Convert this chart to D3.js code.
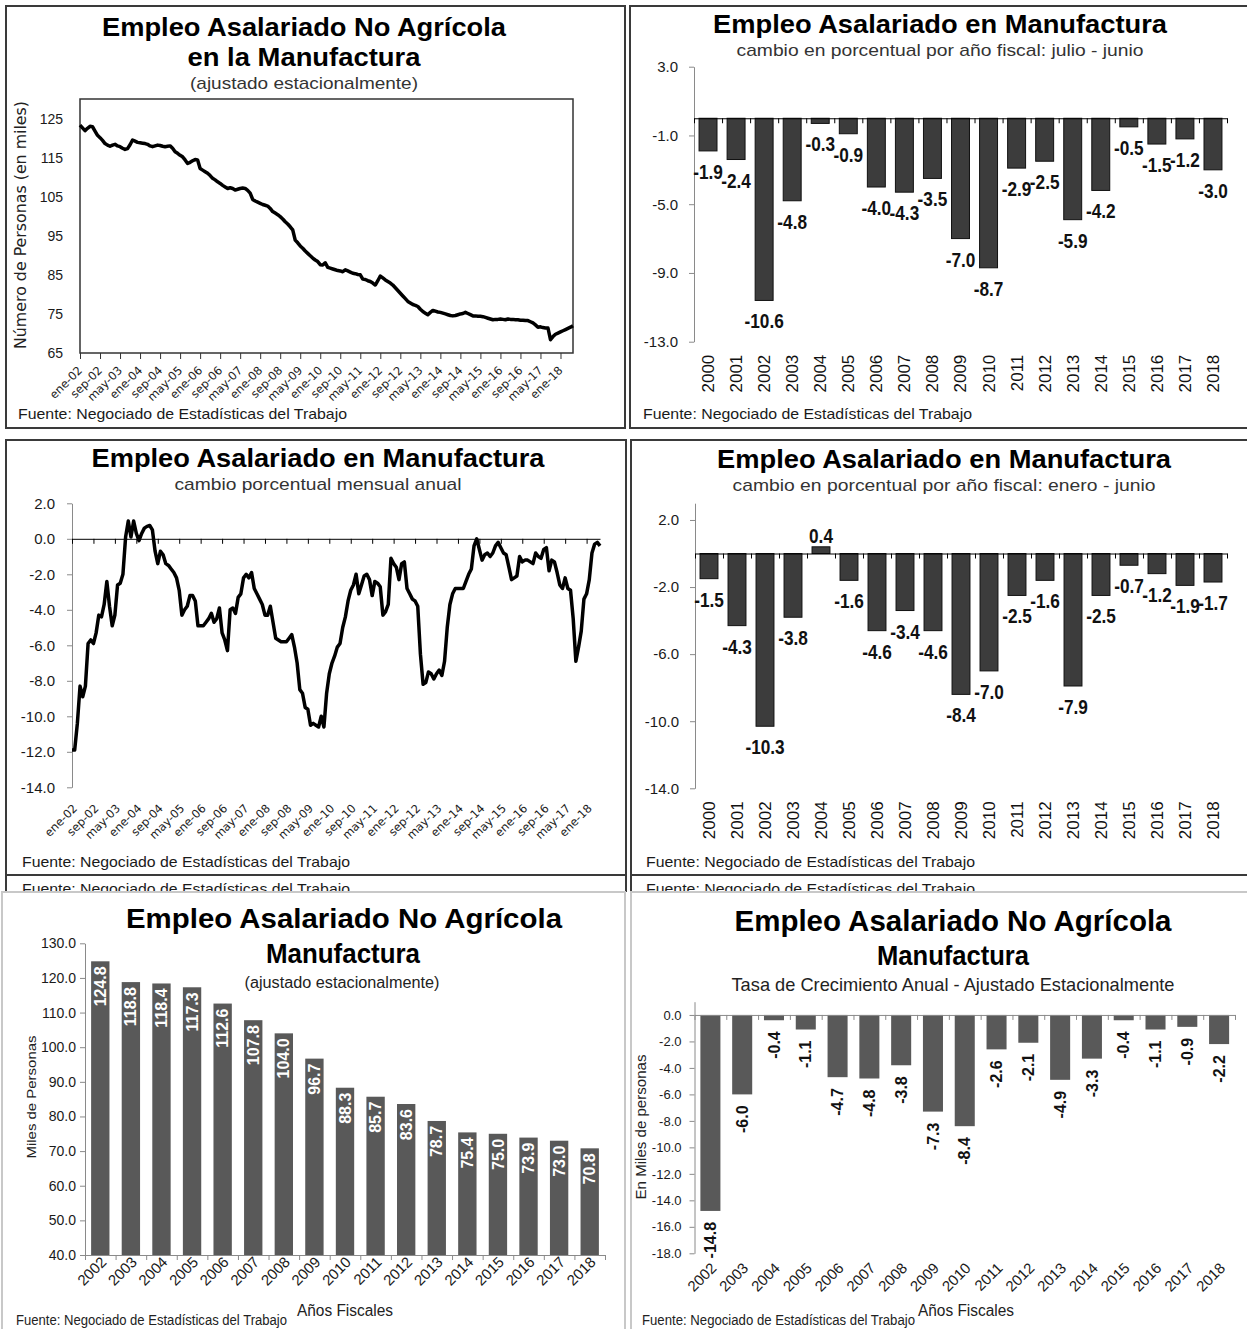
<!DOCTYPE html>
<html>
<head>
<meta charset="utf-8">
<script src="https://cdn.jsdelivr.net/npm/d3@7"></script>
<style>
body { margin: 0; background: #fff; }
svg { display: block; }
text { font-family: "Liberation Sans", Arial, sans-serif; }
</style>
</head>
<body>
<svg id="chart" width="1247" height="1329"></svg>
<script>
// ---- data ----
var tickLabels = ["ene-02","sep-02","may-03","ene-04","sep-04","may-05","ene-06","sep-06","may-07",
  "ene-08","sep-08","may-09","ene-10","sep-10","may-11","ene-12","sep-12","may-13","ene-14",
  "sep-14","may-15","ene-16","sep-16","may-17","ene-18"];

// empleo mensual ajustado (miles), ene-02 .. jun-18
var empleoMensual = [
  123.3,122.6,121.9,122.5,123.0,122.9,121.8,120.7,120.1,119.4,118.6,118.2,
  117.9,118.2,118.4,118.0,117.8,117.4,117.1,117.3,118.3,119.5,119.2,118.9,
  118.8,118.7,118.6,118.4,118.0,117.8,118.0,118.2,118.1,117.9,117.8,117.9,
  118.0,117.4,116.5,116.1,115.6,115.2,114.4,113.5,113.8,114.2,114.5,114.4,
  112.2,111.8,111.4,111.0,110.4,109.7,109.3,108.8,108.4,107.9,107.5,107.1,
  107.3,107.1,106.7,106.9,107.1,107.2,107.1,106.6,105.9,104.3,103.9,103.6,
  103.3,103.0,102.8,102.6,102.0,101.2,100.8,100.4,99.9,99.3,98.6,98.0,
  97.3,96.5,93.9,93.2,92.4,91.8,91.1,90.5,89.9,89.3,88.8,88.4,
  87.6,87.5,88.1,86.9,86.7,86.5,86.3,86.1,86.0,85.8,86.3,86.0,
  85.7,85.4,85.3,85.1,85.0,83.9,83.8,83.5,83.3,82.9,82.4,83.5,
  84.7,84.2,83.7,83.3,82.9,82.4,81.7,81.0,80.3,79.6,78.9,78.2,
  77.8,77.4,77.2,76.9,76.2,75.6,75.2,74.8,75.4,75.9,75.7,75.5,
  75.4,75.2,75.0,74.8,74.6,74.5,74.6,74.8,75.0,75.1,75.4,75.1,
  74.8,74.5,74.5,74.4,74.4,74.3,74.1,73.9,73.7,73.5,73.6,73.6,
  73.7,73.6,73.5,73.7,73.6,73.6,73.5,73.5,73.4,73.4,73.3,73.3,
  73.0,72.7,72.2,71.6,71.7,71.5,71.4,71.4,68.4,69.2,69.8,70.1,
  70.4,70.7,71.0,71.3,71.6,72.0
];

// cambio porcentual mensual anual, ene-02 .. jun-18
var cambioMensual = [
  -11.9,-11.9,-10.4,-8.3,-8.9,-8.3,-5.9,-5.7,-5.9,-5.3,-4.3,-4.4,
  -3.7,-2.4,-3.8,-4.9,-4.3,-2.6,-2.5,-2.0,0.1,1.0,0.1,1.0,
  0.3,-0.1,0.3,0.6,0.7,0.75,0.5,-0.7,-1.4,-0.7,-0.9,-1.4,
  -1.5,-1.7,-1.9,-2.2,-2.9,-4.3,-4.0,-3.8,-3.2,-3.2,-3.5,-4.9,
  -4.9,-4.9,-4.7,-4.5,-4.2,-4.7,-4.5,-3.9,-5.3,-5.7,-6.3,-4.0,
  -3.9,-4.2,-3.3,-3.1,-2.2,-2.0,-2.2,-1.9,-2.8,-3.1,-3.4,-3.7,
  -4.3,-4.3,-3.8,-4.7,-5.6,-5.7,-5.8,-5.8,-5.8,-5.6,-5.4,-6.1,
  -7.0,-8.5,-8.7,-9.5,-9.6,-10.5,-10.4,-10.5,-10.6,-10.0,-10.6,-8.7,
  -7.6,-7.0,-6.6,-6.1,-5.9,-5.0,-4.4,-3.5,-2.9,-2.6,-2.0,-3.1,
  -2.6,-2.1,-2.0,-2.3,-3.2,-2.4,-2.5,-2.7,-4.3,-4.1,-3.7,-1.1,
  -1.4,-1.6,-2.3,-1.4,-1.3,-2.8,-3.1,-3.4,-3.5,-3.8,-6.5,-8.2,
  -8.1,-7.5,-7.6,-7.9,-7.6,-7.4,-7.7,-6.9,-5.0,-3.7,-3.1,-2.8,
  -2.8,-2.8,-2.8,-2.4,-2.0,-1.7,-0.4,0.0,-0.6,-1.2,-0.9,-0.8,
  -1.0,-0.8,-0.4,-0.2,-0.5,-0.8,-0.9,-1.6,-2.3,-2.2,-2.1,-1.0,
  -1.3,-1.2,-1.2,-1.3,-1.4,-0.8,-1.0,-1.1,-0.6,-0.5,-1.8,-1.2,
  -1.3,-1.9,-2.6,-2.8,-2.2,-2.8,-2.9,-4.5,-6.9,-6.1,-5.2,-3.4,
  -3.1,-2.3,-0.8,-0.3,-0.2,-0.4
];

var aniosFiscales = ["2000","2001","2002","2003","2004","2005","2006","2007","2008","2009",
  "2010","2011","2012","2013","2014","2015","2016","2017","2018"];
var cambioJulioJunio = [-1.9,-2.4,-10.6,-4.8,-0.3,-0.9,-4.0,-4.3,-3.5,-7.0,-8.7,-2.9,-2.5,-5.9,-4.2,-0.5,-1.5,-1.2,-3.0];
var cambioEneroJunio = [-1.5,-4.3,-10.3,-3.8,0.4,-1.6,-4.6,-3.4,-4.6,-8.4,-7.0,-2.5,-1.6,-7.9,-2.5,-0.7,-1.2,-1.9,-1.7];

var aniosAjustados = ["2002","2003","2004","2005","2006","2007","2008","2009","2010","2011",
  "2012","2013","2014","2015","2016","2017","2018"];
var empleoAnual = [124.8,118.8,118.4,117.3,112.6,107.8,104.0,96.7,88.3,85.7,83.6,78.7,75.4,75.0,73.9,73.0,70.8];
var tasaCrecimiento = [-14.8,-6.0,-0.4,-1.1,-4.7,-4.8,-3.8,-7.3,-8.4,-2.6,-2.1,-4.9,-3.3,-0.4,-1.1,-0.9,-2.2];

var fuente = "Fuente: Negociado de Estadísticas del Trabajo";

// ---- helpers ----
var svg = d3.select("#chart");
svg.append("rect").attr("width", 1247).attr("height", 1329).attr("fill", "#fff");

function txt(parent, x, y, s, o) {
  o = o || {};
  var t = parent.append("text")
    .attr("x", x).attr("y", y)
    .attr("text-anchor", o.anchor || "middle")
    .attr("font-size", o.size || 14)
    .attr("fill", o.color || "#1a1a1a")
    .text(s);
  if (o.bold) t.attr("font-weight", "bold");
  if (o.len) t.attr("textLength", o.len).attr("lengthAdjust", "spacingAndGlyphs");
  if (o.font) t.style("font-family", o.font);
  if (o.rotate) t.attr("transform", "rotate(" + o.rotate + "," + x + "," + y + ")");
  return t;
}

function box(x, y, w, h, color) {
  svg.append("rect").attr("x", x).attr("y", y).attr("width", w).attr("height", h)
    .attr("fill", "#fff").attr("stroke", color).attr("stroke-width", 2);
}

function styleAxis(g, size, lineColor) {
  g.attr("font-size", size).attr("color", lineColor);
  g.selectAll("text").attr("fill", "#1a1a1a");
}

var dark = "#3a3a3a", light = "#c8c8c8";

// ================= panel 1: empleo mensual =================
box(6, 6, 619, 422, dark);
var p1 = svg.append("g");
txt(p1, 304, 36, "Empleo Asalariado No Agrícola", {size: 26, bold: true, len: 404, color: "#000"});
txt(p1, 304, 66, "en la Manufactura", {size: 26, bold: true, len: 233, color: "#000"});
txt(p1, 304, 89, "(ajustado  estacionalmente)", {size: 17, len: 228, color: "#333"});

var x1 = d3.scaleLinear().domain([0, empleoMensual.length - 1]).range([80, 573]);
var y1 = d3.scaleLinear().domain([65, 130]).range([353, 99]);

p1.append("g").attr("transform", "translate(80,0)")
  .call(d3.axisLeft(y1).tickValues(d3.range(65, 126, 10)).tickSize(0).tickPadding(17))
  .call(function (g) { g.select(".domain").remove(); styleAxis(g, 14, "#333"); });

p1.append("g").attr("transform", "translate(0,353)")
  .call(d3.axisBottom(x1).tickValues(d3.range(0, 198, 8)).tickSize(6).tickFormat(""))
  .call(function (g) { g.select(".domain").remove(); styleAxis(g, 10, "#333"); });

p1.append("rect").attr("x", 80).attr("y", 99).attr("width", 493).attr("height", 254)
  .attr("fill", "none").attr("stroke", "#333").attr("stroke-width", 1.5);

p1.append("path").datum(empleoMensual)
  .attr("fill", "none").attr("stroke", "#000").attr("stroke-width", 3.5)
  .attr("stroke-linejoin", "round")
  .attr("d", d3.line().x(function (d, i) { return x1(i); }).y(function (d) { return y1(d); }));

p1.selectAll(".xl").data(tickLabels).enter().append("text")
  .attr("transform", function (d, i) { return "translate(" + (x1(i * 8) + 3) + ",371) rotate(-45)"; })
  .attr("text-anchor", "end").attr("font-size", 11.5).attr("fill", "#1a1a1a")
  .style("font-family", "DejaVu Sans, Verdana, sans-serif")
  .text(function (d) { return d; });

txt(p1, 26, 225, "Número  de  Personas (en miles)", {size: 15, len: 248, rotate: -90, color: "#222", font: "DejaVu Sans, sans-serif"});
txt(p1, 18, 419, fuente, {anchor: "start", size: 15, len: 329});

// ================= fiscal bar panels (2 and 4) =================
function fiscalPanel(o) {
  var g = svg.append("g");
  txt(g, o.cx, o.titleY, "Empleo Asalariado en Manufactura", {size: 26, bold: true, len: o.titleLen, color: "#000"});
  txt(g, o.cx, o.subY, o.sub, {size: 17, len: o.subLen, color: "#333"});

  var x = d3.scaleBand().domain(aniosFiscales).range([o.x0, o.x1]).paddingInner(0.36).paddingOuter(0.18);
  var y = d3.scaleLinear().domain(o.yDomain).range([o.yBottom, o.yTop]);

  g.append("g").attr("transform", "translate(" + o.x0 + ",0)")
    .call(d3.axisLeft(y).tickValues(o.yTicks).tickSize(5).tickPadding(11).tickSizeOuter(0)
      .tickFormat(function (d) { return d.toFixed(1); }))
    .call(function (a) { styleAxis(a, 15, "#8a8a8a"); });

  g.selectAll(".bar").data(o.values).enter().append("rect")
    .attr("x", function (d, i) { return x(aniosFiscales[i]); })
    .attr("width", x.bandwidth())
    .attr("y", function (d) { return y(Math.max(0, d)); })
    .attr("height", function (d) { return Math.abs(y(d) - y(0)); })
    .attr("fill", "#3c3c3c").attr("stroke", "#111").attr("stroke-width", 1);

  var xb = d3.scaleLinear().domain([0, aniosFiscales.length]).range([o.x0, o.x1]);
  g.append("g").attr("transform", "translate(0," + y(0) + ")")
    .call(d3.axisBottom(xb).tickValues(d3.range(0, aniosFiscales.length + 1)).tickSize(5).tickSizeOuter(0).tickFormat(""))
    .call(function (a) { a.attr("color", "#000"); });

  g.selectAll(".val").data(o.values).enter().append("text")
    .attr("transform", function (d, i) {
      var cx = x(aniosFiscales[i]) + x.bandwidth() / 2;
      var yy = d < 0 ? y(d) + 28 : y(d) - 4;
      return "translate(" + cx + "," + yy + ") scale(0.82,1)";
    })
    .attr("text-anchor", "middle").attr("font-size", 21).attr("font-weight", "bold").attr("fill", "#111")
    .text(function (d) { return d.toFixed(1); });

  g.selectAll(".yr").data(aniosFiscales).enter().append("text")
    .attr("transform", function (d) {
      return "translate(" + (x(d) + x.bandwidth() / 2) + "," + (o.yBottom + 13) + ") rotate(-90)";
    })
    .attr("dy", "0.35em").attr("text-anchor", "end").attr("font-size", 17).attr("fill", "#111")
    .text(function (d) { return d; });

  txt(g, o.fx, o.fy, fuente, {anchor: "start", size: 15, len: 329});
  return g;
}

box(630, 6, 640, 422, dark);
fiscalPanel({
  cx: 940, titleY: 33, titleLen: 454, subY: 56, subLen: 407,
  sub: "cambio  en  porcentual  por  año  fiscal:  julio  -  junio",
  values: cambioJulioJunio, x0: 694, x1: 1227, yDomain: [-13, 3], yBottom: 341.7, yTop: 66.7,
  yTicks: [3, -1, -5, -9, -13], fx: 643, fy: 419
});

// ================= panel 3: cambio mensual =================
box(6, 440, 620, 435, dark);
svg.append("line").attr("x1", 6).attr("x2", 6).attr("y1", 875).attr("y2", 892).attr("stroke", dark).attr("stroke-width", 2);
svg.append("line").attr("x1", 626).attr("x2", 626).attr("y1", 875).attr("y2", 892).attr("stroke", dark).attr("stroke-width", 2);
var p3 = svg.append("g");
txt(p3, 318, 467, "Empleo Asalariado en Manufactura", {size: 26, bold: true, len: 453, color: "#000"});
txt(p3, 318, 490, "cambio  porcentual  mensual  anual", {size: 17, len: 287, color: "#333"});

var x3 = d3.scaleLinear().domain([0, cambioMensual.length - 1]).range([72, 600]);
var y3 = d3.scaleLinear().domain([-14, 2]).range([787.3, 503.3]);

p3.append("g").attr("transform", "translate(72,0)")
  .call(d3.axisLeft(y3).tickValues(d3.range(2, -15, -2)).tickSize(5).tickPadding(12).tickSizeOuter(0)
    .tickFormat(function (d) { return d.toFixed(1); }))
  .call(function (a) { styleAxis(a, 15, "#8a8a8a"); });

p3.append("g").attr("transform", "translate(0," + y3(0) + ")")
  .call(d3.axisBottom(x3).tickValues(d3.range(0, 198, 8)).tickSize(5).tickSizeOuter(0).tickFormat(""))
  .call(function (a) { a.attr("color", "#000"); });

p3.append("path").datum(cambioMensual)
  .attr("fill", "none").attr("stroke", "#000").attr("stroke-width", 3.5)
  .attr("stroke-linejoin", "round")
  .attr("d", d3.line().x(function (d, i) { return x3(i); }).y(function (d) { return y3(d); }));

p3.selectAll(".xl").data(tickLabels).enter().append("text")
  .attr("transform", function (d, i) { return "translate(" + (x3(i * 8) + 6) + ",809) rotate(-45)"; })
  .attr("text-anchor", "end").attr("font-size", 11.5).attr("fill", "#1a1a1a")
  .style("font-family", "DejaVu Sans, Verdana, sans-serif")
  .text(function (d) { return d; });

txt(p3, 22, 867, fuente, {anchor: "start", size: 15, len: 328});
txt(p3, 22, 894, fuente, {anchor: "start", size: 15, len: 328});

// ================= panel 4 =================
box(631, 440, 640, 435, dark);
svg.append("line").attr("x1", 631).attr("x2", 631).attr("y1", 875).attr("y2", 892).attr("stroke", dark).attr("stroke-width", 2);
var p4 = fiscalPanel({
  cx: 944, titleY: 468, titleLen: 454, subY: 491, subLen: 423,
  sub: "cambio  en  porcentual  por  año  fiscal:  enero  -  junio",
  values: cambioEneroJunio, x0: 695, x1: 1227, yDomain: [-14, 3], yBottom: 788.3, yTop: 503.2,
  yTicks: [2, -2, -6, -10, -14], fx: 646, fy: 867
});
txt(p4, 646, 894, fuente, {anchor: "start", size: 15, len: 329});

// ================= bottom bar panels =================
function bottomAxisLabels(g, x, yBase) {
  g.selectAll(".yr").data(aniosAjustados).enter().append("text")
    .attr("transform", function (d) {
      return "translate(" + (x(d) + x.bandwidth() / 2 + 7) + "," + (yBase + 8) + ") rotate(-45)";
    })
    .attr("text-anchor", "end").attr("font-size", 15).attr("fill", "#1a1a1a")
    .text(function (d) { return d; });
}

// panel 5
box(2, 892, 623, 460, light);
var p5 = svg.append("g");
txt(p5, 344, 928, "Empleo Asalariado  No Agrícola", {size: 28, bold: true, len: 436, color: "#000"});
txt(p5, 343, 963, "Manufactura", {size: 27, bold: true, len: 154, color: "#000"});
txt(p5, 342, 988, "(ajustado  estacionalmente)", {size: 16, len: 195, color: "#222"});

var x5 = d3.scaleBand().domain(aniosAjustados).range([85, 605]).paddingInner(0.4).paddingOuter(0.2);
var y5 = d3.scaleLinear().domain([40, 130]).range([1255, 943.3]);

p5.append("g").attr("transform", "translate(85,0)")
  .call(d3.axisLeft(y5).tickValues(d3.range(40, 131, 10)).tickSize(5).tickPadding(4).tickSizeOuter(0)
    .tickFormat(function (d) { return d.toFixed(1); }))
  .call(function (a) { styleAxis(a, 14, "#8a8a8a"); });

var xb5 = d3.scaleLinear().domain([0, aniosAjustados.length]).range([85, 605]);
p5.append("g").attr("transform", "translate(0,1255)")
  .call(d3.axisBottom(xb5).tickValues(d3.range(0, aniosAjustados.length + 1)).tickSize(5).tickSizeOuter(0).tickFormat(""))
  .call(function (a) { a.attr("color", "#8a8a8a"); });

p5.selectAll(".bar").data(empleoAnual).enter().append("rect")
  .attr("x", function (d, i) { return x5(aniosAjustados[i]); })
  .attr("width", x5.bandwidth())
  .attr("y", function (d) { return y5(d); })
  .attr("height", function (d) { return y5(40) - y5(d); })
  .attr("fill", "#595959");

p5.selectAll(".val").data(empleoAnual).enter().append("text")
  .attr("transform", function (d, i) {
    return "translate(" + (x5(aniosAjustados[i]) + x5.bandwidth() / 2) + "," + (y5(d) + 5) + ") rotate(-90)";
  })
  .attr("dy", "0.35em").attr("text-anchor", "end").attr("font-size", 16).attr("font-weight", "bold").attr("fill", "#fff")
  .text(function (d) { return d.toFixed(1); });

bottomAxisLabels(p5, x5, 1255);
txt(p5, 36, 1097, "Miles de Personas", {size: 13, len: 123, rotate: -90, color: "#222"});
txt(p5, 345, 1316, "Años Fiscales", {size: 16, len: 96, color: "#222"});
txt(p5, 16, 1325, fuente, {anchor: "start", size: 14, len: 271, color: "#222"});

// panel 6
box(631, 892, 640, 460, light);
var p6 = svg.append("g");
txt(p6, 953, 931, "Empleo Asalariado  No Agrícola", {size: 29, bold: true, len: 437, color: "#000"});
txt(p6, 953, 965, "Manufactura", {size: 27, bold: true, len: 152, color: "#000"});
txt(p6, 953, 991, "Tasa de Crecimiento Anual - Ajustado Estacionalmente", {size: 19, len: 443, color: "#222"});

var x6 = d3.scaleBand().domain(aniosAjustados).range([694.5, 1235]).paddingInner(0.37).paddingOuter(0.185);
var y6 = d3.scaleLinear().domain([-18, 1]).range([1253.3, 1001.7]);

p6.append("g").attr("transform", "translate(694.5,0)")
  .call(d3.axisLeft(y6).tickValues(d3.range(0, -19, -2)).tickSize(5).tickPadding(8).tickSizeOuter(0)
    .tickFormat(function (d) { return d.toFixed(1); }))
  .call(function (a) { styleAxis(a, 13, "#8a8a8a"); });

p6.selectAll(".bar").data(tasaCrecimiento).enter().append("rect")
  .attr("x", function (d, i) { return x6(aniosAjustados[i]); })
  .attr("width", x6.bandwidth())
  .attr("y", function (d) { return y6(Math.max(0, d)); })
  .attr("height", function (d) { return Math.abs(y6(d) - y6(0)); })
  .attr("fill", "#595959");

var xb6 = d3.scaleLinear().domain([0, aniosAjustados.length]).range([694.5, 1235]);
p6.append("g").attr("transform", "translate(0," + y6(0) + ")")
  .call(d3.axisBottom(xb6).tickValues(d3.range(0, aniosAjustados.length + 1)).tickSize(5).tickSizeOuter(0).tickFormat(""))
  .call(function (a) { a.attr("color", "#8a8a8a"); });

p6.selectAll(".val").data(tasaCrecimiento).enter().append("text")
  .attr("transform", function (d, i) {
    return "translate(" + (x6(aniosAjustados[i]) + x6.bandwidth() / 2) + "," + (y6(d) + 11) + ") rotate(-90)";
  })
  .attr("dy", "0.35em").attr("text-anchor", "end").attr("font-size", 16).attr("font-weight", "bold").attr("fill", "#111")
  .text(function (d) { return d.toFixed(1); });

bottomAxisLabels(p6, x6, 1261);
txt(p6, 646, 1127, "En Miles de personas", {size: 14, len: 145, rotate: -90, color: "#222"});
txt(p6, 966, 1316, "Años Fiscales", {size: 16, len: 96, color: "#222"});
txt(p6, 642, 1325, fuente, {anchor: "start", size: 14, len: 273, color: "#222"});
</script>
</body>
</html>
